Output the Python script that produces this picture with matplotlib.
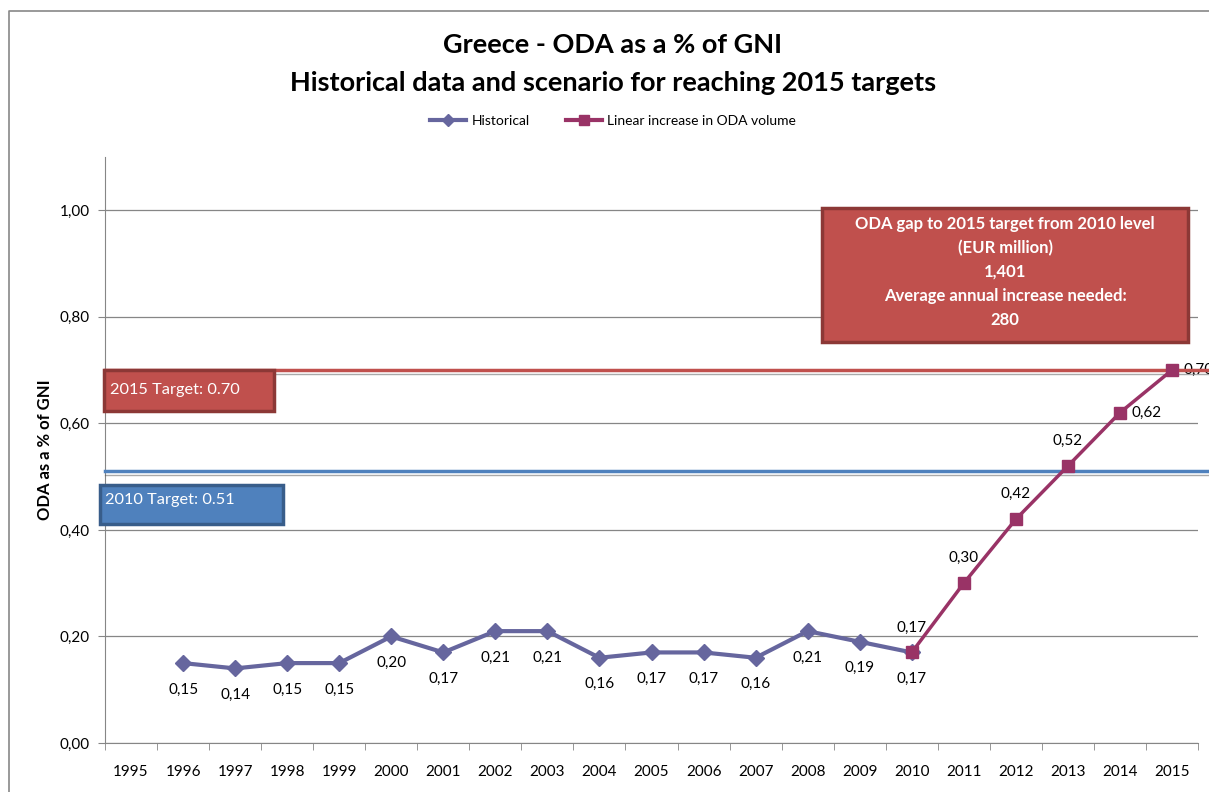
import matplotlib.pyplot as plt
import matplotlib.patheffects as pe
from matplotlib.patches import Rectangle
from matplotlib.lines import Line2D

plt.rcParams['font.family'] = ['Lato', 'DejaVu Sans']

# ODA as % of GNI
years = [str(y) for y in range(1995, 2016)]
hist_years = [str(y) for y in range(1996, 2011)]
hist_values = [0.15, 0.14, 0.15, 0.15, 0.20, 0.17, 0.21, 0.21, 0.16, 0.17,
               0.17, 0.16, 0.21, 0.19, 0.17]
lin_years = [str(y) for y in range(2010, 2016)]
lin_values = [0.17, 0.30, 0.42, 0.52, 0.62, 0.70]
target_2015 = 0.70
target_2010 = 0.51
gap_text = ["ODA gap to 2015 target from 2010 level", "(EUR million)", "1,401",
            "Average annual increase needed:", "280"]

HIST_C = '#66669E'
LIN_C = '#993366'
RED = '#C0504D'
RED_EDGE = '#8C3836'
BLUE = '#4F81BD'
BLUE_EDGE = '#385D8A'
GRID_C = '#868686'

W, H = 1209, 792
fig = plt.figure(figsize=(W / 100, H / 100), dpi=100)


def fx(x):
    return x / W


def fy(y):
    return 1 - y / H


ax = fig.add_axes([fx(105), fy(743), fx(1198) - fx(105), fy(157) - fy(743)])

xi = {y: i for i, y in enumerate(years)}
hx = [xi[y] for y in hist_years]
lx = [xi[y] for y in lin_years]

ax.plot(hx, hist_values, color=HIST_C, lw=3, marker='D', ms=8, zorder=4)
ax.plot(lx, lin_values, color=LIN_C, lw=2.5, marker='s', ms=9, zorder=5)

fmt = lambda v: f"{v:.2f}".replace('.', ',')
for x, v in zip(hx, hist_values):
    ax.annotate(fmt(v), (x, v), xytext=(0, -19), textcoords='offset points',
                ha='center', va='center', fontsize=11)
for i, (x, v) in enumerate(zip(lx, lin_values)):
    if i >= 4:
        ax.annotate(fmt(v), (x, v), xytext=(8, 0), textcoords='offset points',
                    ha='left', va='center', fontsize=11, annotation_clip=False)
    else:
        ax.annotate(fmt(v), (x, v), xytext=(0, 18), textcoords='offset points',
                    ha='center', va='center', fontsize=11)

# target lines run past the plot area up to the figure edge
shadow = [pe.SimpleLineShadow(offset=(0, -2.5), shadow_color='#555555', alpha=0.5,
                              linewidth=1), pe.Normal()]
line_end = (W - 105) / (1198 - 105)
for val, col in [(target_2015, RED), (target_2010, BLUE)]:
    ax.plot([0, line_end], [val, val], transform=ax.get_yaxis_transform(),
            color=col, lw=2.5, clip_on=False, zorder=3, path_effects=shadow)

ax.set_xlim(-0.5, len(years) - 0.5)
ax.set_ylim(0, 1.1)
ax.set_xticks(range(len(years)))
ax.set_xticklabels(years, fontsize=11)
ax.set_xticks([i - 0.5 for i in range(len(years) + 1)], minor=True)
ax.tick_params(axis='x', which='major', length=0, pad=16)
ax.tick_params(axis='x', which='minor', length=5, color=GRID_C, direction='out')
ax.set_yticks([0, 0.2, 0.4, 0.6, 0.8, 1.0])
ax.set_yticklabels([fmt(v) for v in [0, 0.2, 0.4, 0.6, 0.8, 1.0]], fontsize=11)
ax.tick_params(axis='y', length=5, color=GRID_C, pad=6)
ax.grid(axis='y', color=GRID_C, lw=0.9)
ax.set_axisbelow(True)
for s in ['top', 'right']:
    ax.spines[s].set_visible(False)
for s in ['left', 'bottom']:
    ax.spines[s].set_color(GRID_C)
ax.set_ylabel('ODA as a % of GNI', fontsize=12, fontweight='bold')
ax.yaxis.set_label_coords((53 - 105) / (1198 - 105), 0.5)

# text boxes
fig.patches.append(Rectangle((fx(104), fy(411)), fx(170), 41 / H, transform=fig.transFigure,
                             facecolor=RED, edgecolor=RED_EDGE, lw=2.5, zorder=6))
fig.text(fx(110), fy(390), "2015 Target: 0.70", color='white', fontsize=11.8,
         va='center', ha='left', zorder=7)
fig.patches.append(Rectangle((fx(100), fy(524)), fx(183), 39 / H, transform=fig.transFigure,
                             facecolor=BLUE, edgecolor=BLUE_EDGE, lw=2.5, zorder=6))
fig.text(fx(105), fy(500), "2010 Target: 0.51", color='white', fontsize=11.8,
         va='center', ha='left', zorder=7)
fig.patches.append(Rectangle((fx(822), fy(342)), fx(366), 134 / H, transform=fig.transFigure,
                             facecolor=RED, edgecolor=RED_EDGE, lw=2.5, zorder=6))
for k, line in enumerate(gap_text):
    fig.text(fx(1005), fy(224 + k * 24), line, color='white', fontsize=12,
             fontweight='bold', ha='center', va='center', zorder=7)

# titles and legend
fig.text(fx(613), fy(45), "Greece - ODA as a % of GNI", fontsize=19.5, fontweight='bold',
         ha='center', va='center')
fig.text(fx(613), fy(83), "Historical data and scenario for reaching 2015 targets",
         fontsize=19.5, fontweight='bold', ha='center', va='center')
handles = [Line2D([], [], color=HIST_C, lw=3, marker='D', ms=6),
           Line2D([], [], color=LIN_C, lw=3, marker='s', ms=7)]
fig.legend(handles, ['Historical', 'Linear increase in ODA volume'], ncol=2,
           loc='center', bbox_to_anchor=(fx(613), fy(121)), frameon=False,
           fontsize=10, handlelength=2.6, handletextpad=0.4, columnspacing=2.6)

# chart area border
fig.add_artist(Line2D([fx(9), fx(9), fx(W)], [0, fy(11), fy(11)],
                      transform=fig.transFigure, color='#888888', lw=1.2))

fig.savefig('out.png', dpi=100)
